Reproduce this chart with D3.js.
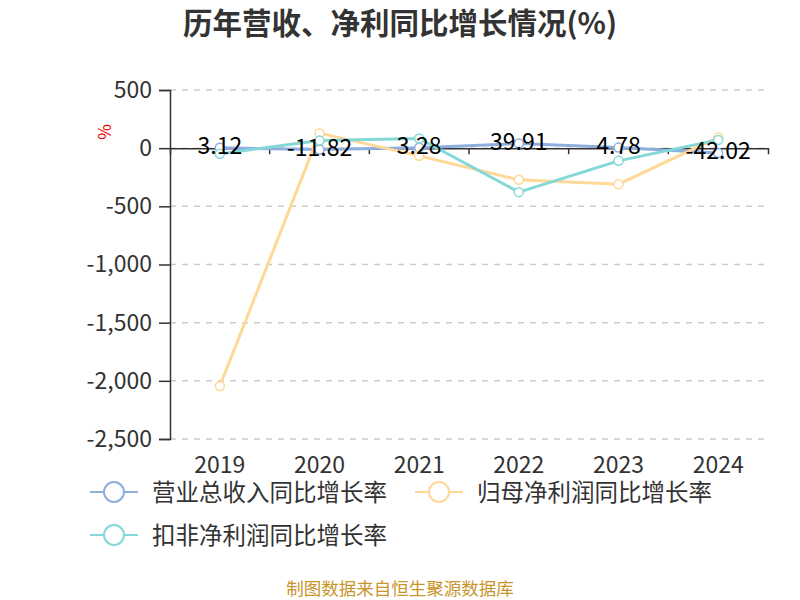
<!DOCTYPE html>
<html><head><meta charset="utf-8">
<script src="https://cdn.jsdelivr.net/npm/d3@7"></script>
<style>body{margin:0;background:#fff;}text{font-family:"Noto Sans CJK SC","Noto Sans",sans-serif;}</style>
</head><body><svg id="c" width="800" height="600"></svg>
<script>
const years = ["2019","2020","2021","2022","2023","2024"];
const revenueGrowth = [3.12, -11.82, 3.28, 39.91, 4.78, -42.02];
const netProfitGrowth = [-2045, 129, -66, -272, -310, 92];
const deductedProfitGrowth = [-49, 65, 83, -378, -109, 71];
const yTicks = [500, 0, -500, -1000, -1500, -2000, -2500];
const seriesNames = ["营业总收入同比增长率", "归母净利润同比增长率", "扣非净利润同比增长率"];
const colors = ["#8FAEE0", "#FFD898", "#84D8D8"];

const svg = d3.select("#c");
const x = d3.scaleBand().domain(years).range([170, 768]);
const y = d3.scaleLinear().domain([-2500, 500]).range([439, 90]);

svg.append("text").attr("x", 400).attr("y", 34).attr("text-anchor", "middle")
  .attr("font-size", 29.5).attr("font-weight", "bold").attr("fill", "#333").text("历年营收、净利同比增长情况(%)");

// grid
svg.append("g").selectAll("line").data(yTicks).join("line")
  .attr("x1", 170).attr("x2", 768).attr("y1", d => y(d)).attr("y2", d => y(d))
  .attr("stroke", "#ccc").attr("stroke-dasharray", "6,6").attr("stroke-width", 1.5);

// y axis
const ya = svg.append("g").attr("transform", "translate(170,0)")
  .call(d3.axisLeft(y).tickValues(yTicks).tickSize(11).tickPadding(7)
    .tickFormat(d => d3.format(",")(d).replace("\u2212", "-")));
ya.select(".domain").attr("stroke", "#333").attr("stroke-width", 1.5);
ya.selectAll(".tick line").attr("stroke", "#333").attr("stroke-width", 1.5);
ya.selectAll("text").attr("font-size", 23).attr("fill", "#333");

svg.append("text").attr("transform", "translate(111,132) rotate(-90)").attr("text-anchor", "middle")
  .attr("font-size", 17).attr("fill", "#e00").text("%");

// x axis at zero
const xa = svg.append("g").attr("transform", `translate(0,${y(0)})`)
  .call(d3.axisBottom(x).tickSize(6).tickSizeOuter(6).tickFormat(""));
xa.select(".domain").attr("stroke", "#333").attr("stroke-width", 1.5);
xa.selectAll(".tick line").attr("stroke", "#333").attr("stroke-width", 1.5)
  .attr("transform", `translate(${-x.bandwidth()/2},0)`);
xa.selectAll(".tick").filter((d,i) => i === 0).select("line").remove();
// x labels at bottom
svg.append("g").selectAll("text").data(years).join("text")
  .attr("x", d => x(d) + x.bandwidth()/2).attr("y", 472.5).attr("text-anchor", "middle")
  .attr("font-size", 23).attr("fill", "#333").text(d => d);

const cx = d => x(d) + x.bandwidth()/2;
const allSeries = [revenueGrowth, netProfitGrowth, deductedProfitGrowth];
const line = d3.line().x((d,i) => cx(years[i])).y(d => y(d));
allSeries.forEach((s, k) => {
  const g = svg.append("g");
  g.append("path").datum(s).attr("d", line).attr("fill", "none")
    .attr("stroke", colors[k]).attr("stroke-width", 3);
  g.selectAll("circle").data(s).join("circle")
    .attr("cx", (d,i) => cx(years[i])).attr("cy", d => y(d)).attr("r", 4.5)
    .attr("fill", "#fff").attr("stroke", colors[k]).attr("stroke-width", 1.5);
});

// data labels for revenue
svg.append("g").selectAll("text").data(revenueGrowth).join("text")
  .attr("x", (d,i) => cx(years[i])).attr("y", d => y(d) + 6).attr("text-anchor", "middle")
  .attr("font-size", 23).attr("fill", "#000").text(d => d.toFixed(2));

// legend
const legendPos = [[90, 492], [415, 492], [90, 535]];
seriesNames.forEach((n, k) => {
  const [lx, ly] = legendPos[k];
  const g = svg.append("g");
  g.append("line").attr("x1", lx).attr("x2", lx + 48).attr("y1", ly).attr("y2", ly)
    .attr("stroke", colors[k]).attr("stroke-width", 2);
  g.append("circle").attr("cx", lx + 24).attr("cy", ly).attr("r", 10)
    .attr("fill", "#fff").attr("stroke", colors[k]).attr("stroke-width", 2);
  g.append("text").attr("x", lx + 62).attr("y", ly + 8.5).attr("font-size", 23.5)
    .attr("fill", "#333").text(n);
});

svg.append("text").attr("x", 400).attr("y", 595).attr("text-anchor", "middle")
  .attr("font-size", 17.5).attr("fill", "#C8952B").text("制图数据来自恒生聚源数据库");
</script></body></html>
